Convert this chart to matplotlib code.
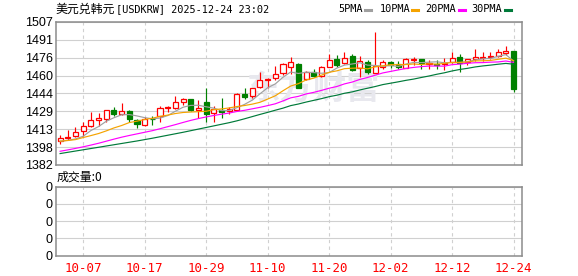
import pandas as pd
import matplotlib
matplotlib.use("Agg")
import matplotlib.pyplot as plt
from matplotlib.patches import Rectangle
from matplotlib.lines import Line2D


# ======================
# 数据：USDKRW 日K (10-02 ~ 12-24)
# ======================
dates = pd.bdate_range("2025-10-02", "2025-12-24")

open_ = [1403.4, 1405.6, 1407.7, 1411.3, 1416.2, 1421.4, 1422.3, 1429.9, 1427.0, 1429.0,
         1421.2, 1417.4, 1422.6, 1424.7, 1431.7, 1431.7, 1436.9, 1439.3, 1430.2, 1436.9,
         1427.3, 1430.5, 1429.6, 1430.5, 1443.9, 1442.2, 1450.3, 1456.5, 1457.7, 1462.1,
         1467.8, 1470.5, 1457.1, 1463.2, 1459.7, 1467.8, 1474.6, 1471.3, 1477.5, 1467.0,
         1472.2, 1462.6, 1467.8, 1471.7, 1469.9, 1467.0, 1473.4, 1474.6, 1470.5, 1470.5,
         1470.0, 1472.2, 1476.6, 1471.7, 1474.3, 1475.5, 1476.6, 1477.2, 1479.8, 1481.6]
high = [1408.0, 1412.4, 1414.8, 1419.4, 1428.2, 1427.5, 1430.5, 1432.8, 1436.3, 1430.5,
        1422.3, 1423.8, 1424.7, 1433.4, 1433.2, 1442.2, 1440.2, 1439.8, 1438.7, 1448.9,
        1433.7, 1441.0, 1432.8, 1445.1, 1448.9, 1449.4, 1463.5, 1457.9, 1468.5, 1471.3,
        1476.3, 1471.5, 1464.3, 1465.8, 1468.5, 1478.7, 1478.4, 1480.7, 1478.7, 1477.2,
        1473.7, 1498.0, 1473.4, 1473.1, 1472.6, 1475.5, 1476.6, 1474.6, 1473.4, 1474.0,
        1475.7, 1480.7, 1479.2, 1474.9, 1483.3, 1480.5, 1480.7, 1483.3, 1486.0, 1481.9]
low = [1400.1, 1403.6, 1406.5, 1407.7, 1415.3, 1416.2, 1419.4, 1424.7, 1425.5, 1419.7,
       1414.4, 1416.5, 1416.8, 1419.7, 1428.4, 1430.8, 1434.3, 1428.8, 1423.2, 1419.7,
       1419.7, 1423.5, 1426.4, 1429.3, 1439.5, 1441.0, 1448.9, 1449.2, 1455.9, 1460.6,
       1461.2, 1449.0, 1455.9, 1459.1, 1458.6, 1467.3, 1467.8, 1470.5, 1464.1, 1458.6,
       1461.2, 1462.1, 1465.6, 1466.7, 1465.6, 1466.4, 1469.3, 1466.1, 1465.8, 1465.6,
       1465.0, 1471.3, 1463.5, 1469.1, 1472.6, 1473.1, 1474.6, 1476.3, 1478.4, 1445.4]
close = [1405.7, 1406.9, 1410.6, 1415.9, 1421.2, 1423.2, 1429.9, 1426.4, 1429.0, 1421.8,
         1417.6, 1422.0, 1421.8, 1431.7, 1432.8, 1436.9, 1439.3, 1429.9, 1431.9, 1426.4,
         1430.8, 1428.4, 1430.8, 1443.9, 1441.3, 1448.9, 1455.9, 1457.3, 1461.2, 1470.2,
         1471.7, 1449.4, 1462.9, 1459.7, 1467.3, 1474.0, 1469.6, 1475.7, 1465.0, 1472.6,
         1463.5, 1468.2, 1471.7, 1469.1, 1467.8, 1474.9, 1474.3, 1471.3, 1471.3, 1469.3,
         1470.9, 1475.7, 1471.3, 1474.3, 1476.6, 1476.1, 1477.5, 1480.5, 1481.9, 1448.6]

ma5 = [1402.8, 1403.6, 1404.8, 1407.1, 1412.1, 1415.6, 1420.2, 1423.3, 1425.9, 1426.1,
       1424.9, 1423.4, 1422.4, 1423.0, 1425.2, 1429.0, 1432.5, 1434.1, 1434.2, 1432.9,
       1431.7, 1429.5, 1429.7, 1432.1, 1435.0, 1438.7, 1444.2, 1449.5, 1452.9, 1458.7,
       1463.3, 1462.0, 1463.1, 1462.8, 1462.2, 1462.7, 1466.7, 1469.3, 1470.3, 1471.4,
       1469.3, 1469.0, 1468.2, 1469.0, 1468.1, 1470.3, 1471.6, 1471.5, 1471.9, 1472.2,
       1471.4, 1471.7, 1471.7, 1472.3, 1473.8, 1474.8, 1475.2, 1477.0, 1478.5, 1472.9]
ma10 = [1402.8, 1403.4, 1404.2, 1406.0, 1407.7, 1409.5, 1411.8, 1414.4, 1416.5, 1419.1,
        1420.3, 1421.8, 1422.9, 1424.5, 1425.6, 1427.0, 1427.9, 1428.3, 1428.6, 1429.0,
        1430.4, 1431.0, 1431.9, 1433.1, 1434.0, 1435.2, 1436.8, 1439.6, 1442.5, 1446.9,
        1451.0, 1453.1, 1456.3, 1457.9, 1460.5, 1463.0, 1464.3, 1466.2, 1466.6, 1466.8,
        1466.0, 1467.9, 1468.7, 1469.7, 1469.7, 1469.8, 1470.3, 1469.8, 1470.5, 1470.1,
        1470.9, 1471.6, 1471.6, 1472.1, 1473.0, 1473.1, 1473.4, 1474.4, 1475.4, 1473.3]
ma20 = [1394.0, 1395.2, 1396.5, 1397.9, 1399.4, 1401.0, 1402.8, 1404.6, 1406.3, 1407.8,
        1409.2, 1410.6, 1412.0, 1413.7, 1415.5, 1417.3, 1419.2, 1421.0, 1422.6, 1424.0,
        1425.3, 1426.4, 1427.4, 1428.8, 1429.8, 1431.1, 1432.4, 1433.9, 1435.5, 1438.0,
        1440.7, 1442.0, 1444.1, 1445.5, 1447.2, 1449.1, 1450.6, 1452.9, 1454.5, 1456.8,
        1458.5, 1460.5, 1462.5, 1463.8, 1465.1, 1466.4, 1467.3, 1468.0, 1468.5, 1468.5,
        1468.4, 1469.7, 1470.2, 1470.9, 1471.4, 1471.5, 1471.9, 1472.1, 1472.9, 1471.7]
ma30 = [1392.0, 1393.1, 1394.2, 1395.3, 1396.4, 1397.5, 1398.6, 1399.7, 1400.8, 1401.9,
        1403.0, 1404.2, 1405.4, 1406.7, 1408.0, 1409.3, 1410.6, 1412.0, 1413.4, 1414.8,
        1416.2, 1417.6, 1419.0, 1420.6, 1422.4, 1424.3, 1426.2, 1428.0, 1429.9, 1431.7,
        1433.9, 1435.3, 1437.0, 1438.5, 1440.0, 1441.7, 1443.0, 1444.7, 1445.9, 1447.6,
        1449.1, 1450.6, 1452.3, 1453.5, 1454.7, 1456.0, 1457.1, 1458.5, 1459.8, 1461.3,
        1462.6, 1464.2, 1465.5, 1466.5, 1467.7, 1468.6, 1469.3, 1470.1, 1470.8, 1470.1]

volume = [0] * len(dates)

price_ticks = ["1382", "1398", "1413", "1429", "1444", "1460", "1476", "1491", "1507"]
date_ticks = ["10-07", "10-17", "10-29", "11-10", "11-20", "12-02", "12-12", "12-24"]

ma_names = ["5PMA", "10PMA", "20PMA", "30PMA"]
ma_colors = ["#a0a0a0", "#f5a300", "#ff00ff", "#007a3a"]

UP = "#ff0000"
DOWN = "#008000"
GRID = "#d0d0d0"
FRAME = "#8c8c8c"

W, H = 578, 276
plt.rcParams["font.family"] = ["Liberation Sans", "DejaVu Sans"]


def style_axes(ax, n):
    for s in ax.spines.values():
        s.set_color(FRAME)
        s.set_linewidth(1.1)
    ax.set_xlim(-0.6, n - 0.4 + 0.5)
    ax.tick_params(length=0, pad=2, labelsize=9)
    ax.grid(axis="y", color=GRID, linewidth=0.8, linestyle="-")
    ax.grid(axis="x", color=GRID, linewidth=0.8, linestyle=(0, (3, 3)))
    ax.set_axisbelow(True)


fig = plt.figure(figsize=(W / 100, H / 100), dpi=100)
ax = fig.add_axes([55.5 / W, 1 - 165 / H, (522 - 55.5) / W, 143 / H])
axv = fig.add_axes([55.5 / W, 1 - 255.5 / H, (522 - 55.5) / W, 68.8 / H])

n = len(dates)
labels = list(dates.strftime("%m-%d"))
tick_idx = [labels.index(t) for t in date_ticks]

# ---------- K 线 ----------
body_w = 0.66
for i in range(n):
    o, h, l, c = open_[i], high[i], low[i], close[i]
    color = UP if c >= o else DOWN
    ax.vlines(i, l, h, color=color, linewidth=0.85, zorder=3)
    bottom = min(o, c)
    height = max(abs(c - o), 0.5)
    face = "white" if c >= o else DOWN
    ax.add_patch(Rectangle((i - body_w / 2, bottom), body_w, height,
                           facecolor=face, edgecolor=color, linewidth=0.9, zorder=4))

# ---------- 均线 ----------
for vals, col in zip([ma5, ma10, ma20, ma30], ma_colors):
    ax.plot(range(n), vals, color=col, linewidth=0.85, zorder=5)

ax.set_ylim(1382, 1507)
ax.set_yticks([1382 + k * 125 / 8 for k in range(9)])
ax.set_yticklabels(price_ticks)
ax.set_xticks(tick_idx)
ax.set_xticklabels([])
style_axes(ax, n)

# 水印
ax.text(380 / W, 1 - 90 / H, "东方财富", transform=fig.transFigure, ha="right", va="center",
        fontsize=24, color="#e8e8ee", family=["Noto Sans CJK SC"], fontweight="bold", zorder=0.6)

# ---------- 成交量 ----------
axv.bar(range(n), volume, width=body_w, color=UP)
axv.set_ylim(0, 4)
axv.set_yticks(range(5))
axv.set_yticklabels(["0"] * 5)
axv.set_xticks(tick_idx)
axv.set_xticklabels(date_ticks, color="red", family="DejaVu Sans Mono", fontsize=6.6)
style_axes(axv, n)
axv.tick_params(axis="x", pad=5)

# ---------- 标题 / 图例 ----------
ty = 1 - 9.5 / H
fig.text(55 / W, ty, "美元兑韩元", family=["Noto Sans CJK SC"], fontsize=8.6, va="center")
fig.text(116 / W, ty, "[USDKRW] 2025-12-24 23:02", family="DejaVu Sans Mono", fontsize=7.4, va="center")
fig.text(57 / W, 1 - 177.5 / H, "成交量:0", family=["Noto Sans CJK SC"], fontsize=8.6, va="center")

leg_x = [338, 380, 425, 471]
dash_x = [365, 412, 459, 505]
for name, col, lx, dx in zip(ma_names, ma_colors, leg_x, dash_x):
    fig.text(lx / W, ty, name, family="DejaVu Sans Mono", fontsize=7.4, va="center")
    fig.add_artist(Line2D([dx / W, (dx + 6) / W], [ty, ty], color=col, linewidth=2.2,
                          transform=fig.transFigure))

fig.savefig("out.png", dpi=100)
plt.close(fig)
